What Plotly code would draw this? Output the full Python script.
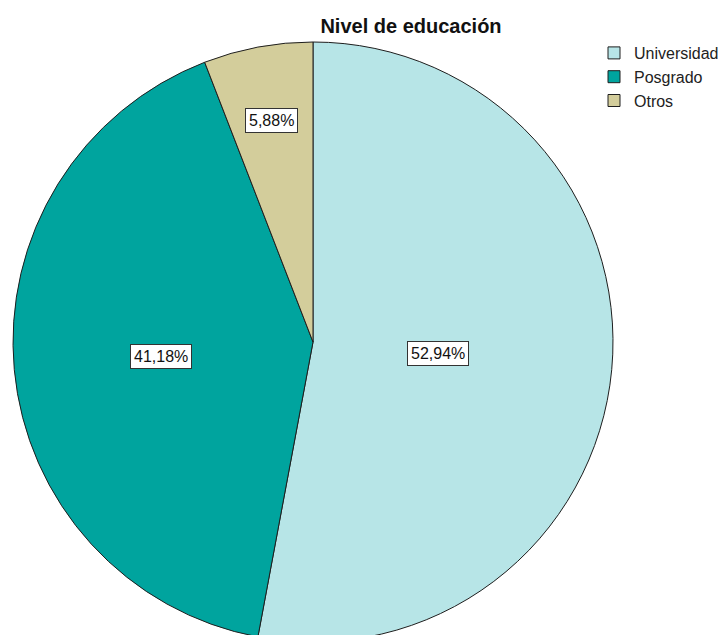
import math
import plotly.graph_objects as go

# Education level distribution (percent of respondents)
categories = ["Universidad", "Posgrado", "Otros"]
percentages = [52.94, 41.18, 5.88]
slice_colors = ["#b7e5e7", "#00a49e", "#d3cd9b"]
# radial placement of each value box, as a fraction of the pie radius
label_radius = [0.42, 0.51, 0.75]

W, H = 724, 650
cx, cy, r = 313, 342, 300  # pie centre and radius in pixels

fig = go.Figure(
    go.Pie(
        labels=categories,
        values=percentages,
        sort=False,
        direction="clockwise",
        rotation=0,
        marker=dict(colors=slice_colors, line=dict(color="#1e1e1e", width=1)),
        textinfo="none",
        hoverinfo="label+percent",
        domain=dict(x=[(cx - r) / W, (cx + r) / W], y=[1 - (cy + r) / H, 1 - (cy - r) / H]),
    )
)

# value boxes placed along each slice's mid-angle
total = sum(percentages)
cum = 0.0
for lab, v, rf in zip(categories, percentages, label_radius):
    mid = (cum + v / 2) / total * 2 * math.pi
    cum += v
    px = cx + rf * r * math.sin(mid)
    py = cy - rf * r * math.cos(mid)
    fig.add_annotation(
        x=px / W, y=1 - py / H, xref="paper", yref="paper",
        xanchor="center", yanchor="middle",
        text=f"{v:.2f}".replace(".", ",") + "%",
        showarrow=False,
        font=dict(family="Liberation Sans, Arial", size=16, color="#111"),
        bgcolor="white", bordercolor="#333", borderwidth=1, borderpad=3,
    )

fig.update_layout(
    width=W, height=H,
    margin=dict(l=0, r=0, t=0, b=0),
    paper_bgcolor="white",
    title=dict(
        text="<b>Nivel de educación</b>",
        x=411 / W, xanchor="center", y=1 - 26 / H, yanchor="middle",
        xref="container", yref="container",
        font=dict(family="Liberation Sans, Arial", size=20, color="#111"),
    ),
    legend=dict(
        x=1, y=1 - 36 / H, xanchor="right", yanchor="top",
        font=dict(family="Liberation Sans, Arial", size=16, color="#222"),
        itemwidth=30, tracegroupgap=0, bgcolor="rgba(0,0,0,0)",
    ),
    showlegend=True,
)

fig.write_html(
    "out.html",
    post_script="document.body.style.margin='0';document.body.style.overflow='hidden';",
)
